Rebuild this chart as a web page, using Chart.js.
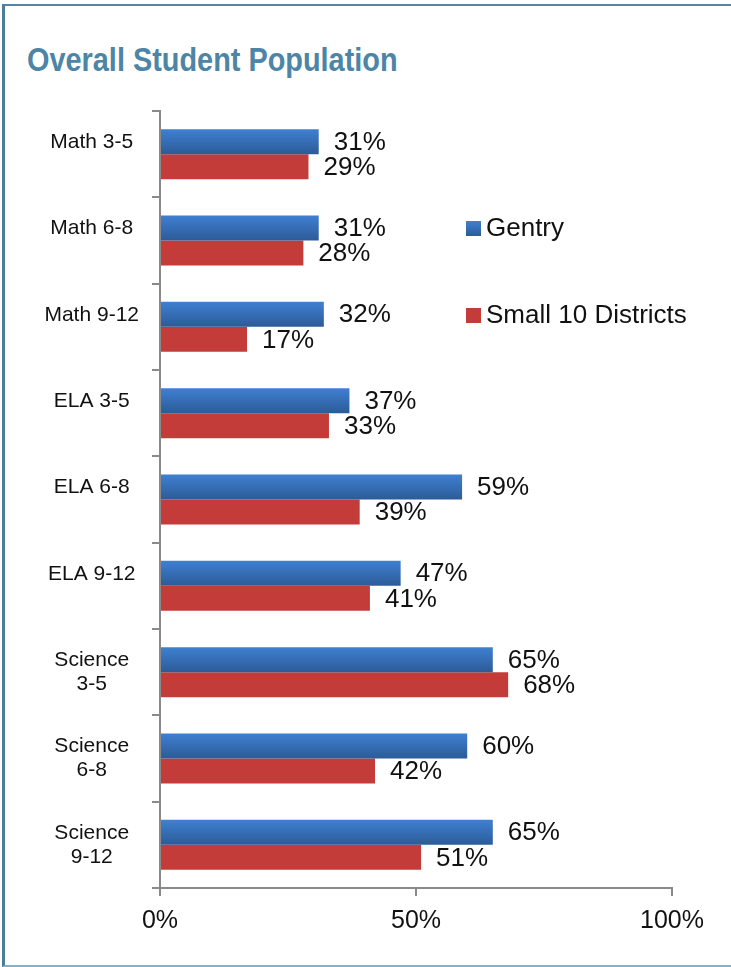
<!DOCTYPE html>
<html>
<head>
<meta charset="utf-8">
<title>Overall Student Population</title>
<script src="https://cdn.jsdelivr.net/npm/chart.js@4"></script>
<style>
  html, body { margin: 0; padding: 0; background: #fff; }
  body { width: 731px; height: 967px; position: relative; overflow: hidden; font-family: 'Liberation Sans', Arial, sans-serif; }
  .frame {
    position: absolute; left: 2px; top: 4px; width: 760px; height: 963px; box-sizing: border-box;
    border-left: 3px solid #4b7e9b; border-top: 2px solid #5584a2; border-bottom: 2px solid #86b2c8;
  }
  .title {
    position: absolute; left: 27px; top: 43px; margin: 0; white-space: nowrap;
    font: bold 33px/33px 'Liberation Sans', Arial, sans-serif;
    color: #4c85a6; transform: scaleX(0.875); transform-origin: 0 0;
  }
  #chartBox { position: absolute; left: 0; top: 0; width: 731px; height: 967px; }
</style>
</head>
<body>
<div class="frame"></div>
<h1 class="title">Overall Student Population</h1>
<div id="chartBox"><canvas id="chart"></canvas></div>

<script>
// data
const categories = ['Math 3-5', 'Math 6-8', 'Math 9-12', 'ELA 3-5', 'ELA 6-8', 'ELA 9-12',
                    ['Science', '3-5'], ['Science', '6-8'], ['Science', '9-12']];
const gentry  = [31, 31, 32, 37, 59, 47, 65, 60, 65];
const small10 = [29, 28, 17, 33, 39, 41, 68, 42, 51];
const xTicks  = [0, 50, 100];

const BLUE_TOP = '#3f80d2', BLUE_BOTTOM = '#2c5b97', RED = '#c33c39';
const AXIS = '#8a8a8a';

function blueGradient(ctx, top, h) {
    const g = ctx.createLinearGradient(0, top, 0, top + h);
    g.addColorStop(0, BLUE_TOP);
    g.addColorStop(1, BLUE_BOTTOM);
    return g;
}

// shade the Gentry bars top to bottom, like the original
// (backgroundColor is scriptable below so each bar keeps its own options object)
const barShading = {
    id: 'barShading',
    beforeDatasetsDraw(chart) {
        chart.getDatasetMeta(0).data.forEach(bar => {
            bar.options.backgroundColor = blueGradient(chart.ctx, bar.y - bar.height / 2, bar.height);
        });
    }
};

// value labels to the right of each bar
const valueLabels = {
    id: 'valueLabels',
    afterDatasetsDraw(chart) {
        const ctx = chart.ctx;
        ctx.save();
        ctx.font = '26px "Liberation Sans", Arial, sans-serif';
        ctx.fillStyle = '#111';
        ctx.textAlign = 'left';
        ctx.textBaseline = 'middle';
        chart.data.datasets.forEach((ds, i) => {
            chart.getDatasetMeta(i).data.forEach((bar, j) => {
                ctx.fillText(ds.data[j] + '%', bar.x + 15, bar.y + 1);
            });
        });
        ctx.restore();
    }
};

// legend sits inside the plot, on the right
const floatLegend = {
    id: 'floatLegend',
    afterDraw(chart, args, opts) {
        const ctx = chart.ctx;
        ctx.save();
        ctx.font = '26px "Liberation Sans", Arial, sans-serif';
        ctx.textBaseline = 'alphabetic';
        ctx.textAlign = 'left';
        chart.data.datasets.forEach((ds, i) => {
            const y = opts.top + i * opts.gap;
            ctx.fillStyle = i === 0 ? blueGradient(ctx, y, 15) : RED;
            ctx.fillRect(opts.left, y, 15, 15);
            ctx.fillStyle = '#111';
            ctx.fillText(ds.label, opts.left + 20, y + 15);
        });
        ctx.restore();
    }
};

new Chart(document.getElementById('chart'), {
    type: 'bar',
    data: {
        labels: categories,
        datasets: [
            { label: 'Gentry', data: gentry, backgroundColor: () => BLUE_TOP },
            { label: 'Small 10 Districts', data: small10, backgroundColor: RED }
        ]
    },
    options: {
        indexAxis: 'y',
        responsive: true,
        maintainAspectRatio: false,
        animation: false,
        categoryPercentage: 0.58,
        barPercentage: 1.0,
        layout: { padding: { left: 10, top: 111, right: 59, bottom: 21 } },
        plugins: {
            legend: { display: false },
            tooltip: { enabled: false },
            floatLegend: { left: 466, top: 221, gap: 87 }
        },
        scales: {
            x: {
                min: 0,
                max: 100,
                afterBuildTicks: s => { s.ticks = xTicks.map(v => ({ value: v })); },
                grid: { drawOnChartArea: false, drawTicks: true, tickLength: 8, color: AXIS, lineWidth: 2 },
                border: { display: true, color: AXIS, width: 2 },
                ticks: {
                    callback: v => v + '%',
                    color: '#111',
                    padding: 10,
                    maxRotation: 0,
                    autoSkip: false,
                    font: { family: '"Liberation Sans", Arial, sans-serif', size: 25 }
                }
            },
            y: {
                afterFit: s => { s.width = 150; },
                grid: { offset: true, drawOnChartArea: false, drawTicks: true, tickLength: 8, color: AXIS, lineWidth: 2 },
                border: { display: true, color: AXIS, width: 2 },
                ticks: {
                    // single-line labels sit a little above the middle of their band in the original
                    callback: function (v) {
                        const lbl = this.getLabelForValue(v);
                        return Array.isArray(lbl) ? lbl : [lbl, ''];
                    },
                    color: '#111',
                    padding: 13,
                    crossAlign: 'center',
                    autoSkip: false,
                    font: { family: '"Liberation Sans", Arial, sans-serif', size: 21, lineHeight: 1.15 }
                }
            }
        }
    },
    plugins: [barShading, valueLabels, floatLegend]
});
</script>
</body>
</html>
